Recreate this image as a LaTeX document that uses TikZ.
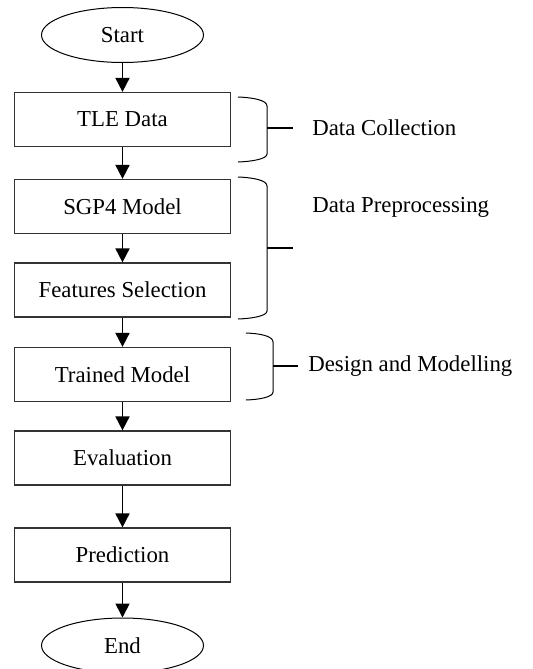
\documentclass[tikz,border=0pt]{standalone}
\usepackage{fontspec}
\setmainfont{Liberation Serif}
\usepackage{tikz}
\usetikzlibrary{arrows.meta,shapes.geometric}
\tikzset{
    term/.style={
           ellipse,
           draw=black, line width=0.5pt,
           minimum width=81pt, minimum height=27.5pt,
           inner sep=0pt,
           },
}
\tikzset{
    proc/.style={
           rectangle,
           draw=black!80, line width=0.6pt,
           minimum width=108pt, minimum height=27pt,
           inner sep=0pt,
           text centered,
           },
}
\tikzset{
    flow/.style={-{Triangle[width=7pt,length=7pt]}, line width=0.9pt},
    brace/.style={draw=black, line width=0.5pt},
    tick/.style={draw=black, line width=0.8pt},
    phase/.style={anchor=west, inner sep=0pt},
}

\begin{document}
\begin{tikzpicture}[x=0.5pt,y=-0.5pt,font=\fontsize{11.4}{13}\selectfont]
\useasboundingbox (0,0) rectangle (532,669);
\node[term] (start) at (122.5,35) {Start};
\node[proc] (tle) at (122.5,119.5) {TLE Data};
\node[proc] (sgp) at (122.5,206.5) {SGP4 Model};
\node[proc] (feat) at (122.5,290) {Features Selection};
\node[proc] (train) at (122.5,374.5) {Trained Model};
\node[proc] (eval) at (122.5,458) {Evaluation};
\node[proc] (pred) at (122.5,555) {Prediction};
\node[term] (stop) at (122.5,645.5) {End};
\draw[flow] (start) -- (tle);
\draw[flow] (tle) -- (sgp);
\draw[flow] (sgp) -- (feat);
\draw[flow] (feat) -- (train);
\draw[flow] (train) -- (eval);
\draw[flow] (eval) -- (pred);
\draw[flow] (pred) -- (stop);
\draw[brace] (238,97) .. controls (252,97.5) and (267,100) .. (267,106) -- (267,154) .. controls (267,159) and (252,161.5) .. (238,162);
\draw[tick] (267,128) -- (293,128);
\node[phase] (coll) at (312,128) {Data Collection};
\draw[brace] (238,177) .. controls (252,177.5) and (267,180) .. (267,186) -- (267,311) .. controls (267,316) and (252,318.5) .. (238,319);
\draw[tick] (267,248) -- (293,248);
\node[phase] (prep) at (312,207) {Data Preprocessing};
\draw[brace] (246,333) .. controls (260,333.5) and (273,336) .. (273,342) -- (273,392) .. controls (273,397) and (260,399.5) .. (246,400);
\draw[tick] (273,366) -- (298,366);
\node[phase] (model) at (308,366) {Design and Modelling};
\end{tikzpicture}
\end{document}
